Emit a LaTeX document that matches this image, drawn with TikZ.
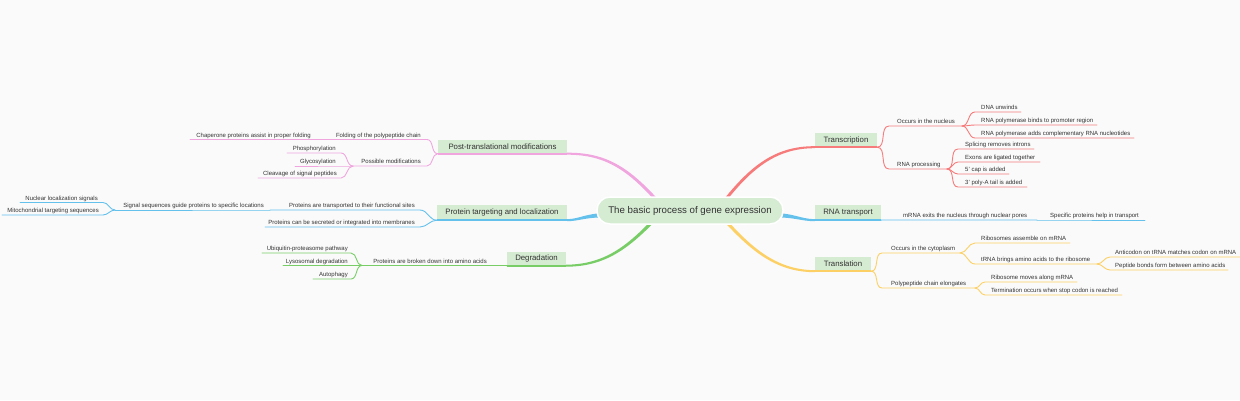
\documentclass[tikz,border=0pt]{standalone}
\usepackage{fontspec}
\setmainfont{Liberation Sans}
\definecolor{bg}{HTML}{FAFAFA}
\definecolor{txt}{HTML}{333333}
\definecolor{boxfill}{HTML}{D5EBD2}
\definecolor{cred}{HTML}{F77B7B}
\definecolor{cpink}{HTML}{F0A5DE}
\definecolor{cblue}{HTML}{63C1EC}
\definecolor{cyel}{HTML}{FCD064}
\definecolor{cgreen}{HTML}{78CD67}
\tikzset{
  lbl/.style={font=\fontsize{6}{7}\selectfont, text=txt, inner sep=0pt},
  rl/.style={lbl, anchor=base west},
  ll/.style={lbl, anchor=base east},
  leafline/.style={line width=0.9pt, line cap=round},
  boxline/.style={line width=2pt},
  mainbox/.style={fill=boxfill, font=\fontsize{7.8}{9}\selectfont, text=txt, inner sep=0pt, minimum height=14pt},
  rootbox/.style={fill=boxfill, draw=white, line width=1.5pt, rounded corners=13pt, font=\fontsize{9.7}{11}\selectfont, text=txt, inner sep=0pt, minimum width=186pt, minimum height=27pt}
}
% name, parent, xs, xe, y, textx, colour, text
\newcommand\rleaf[8]{%
  \coordinate (#1-s) at (#3,#5);
  \coordinate (#1-e) at (#4,#5);
  \draw[leafline,#7] (#2) to[out=0,in=180] (#1-s) -- (#1-e);
  \node[rl] (#1) at (#6,{#5-2.2}) {#8};
}
\newcommand\lleaf[8]{%
  \coordinate (#1-s) at (#3,#5);
  \coordinate (#1-e) at (#4,#5);
  \draw[leafline,#7] (#2) to[out=180,in=0] (#1-e) -- (#1-s);
  \node[ll] (#1) at (#6,{#5-2.2}) {#8};
}
% start, c1 (x,y), c2 (x,y), end, colour  (tapered main branch)
\newcommand\rootbr[5]{%
  \coordinate (rbA) at (#2);
  \coordinate (rbB) at (#3);
  \fill[#5] ([yshift=2.4pt]#1) .. controls ([yshift=1.8pt]rbA) and ([yshift=1.1pt]rbB) .. ([yshift=1pt]#4)
    -- ([yshift=-1pt]#4) .. controls ([yshift=-1.1pt]rbB) and ([yshift=-1.8pt]rbA) .. ([yshift=-2.4pt]#1) -- cycle;
}
\begin{document}
\begin{tikzpicture}[x=1pt,y=-1pt]
\fill[bg] (0,0) rectangle (1240,400);
\useasboundingbox (0,0) rectangle (1240,400);

% main branch boxes
\node[mainbox, minimum width=62pt] (tr) at (846,140) {Transcription};
\node[mainbox, minimum width=66pt, minimum height=15pt] (rt) at (848,212.5) {RNA transport};
\node[mainbox, minimum width=56pt] (tl) at (843,264) {Translation};
\node[mainbox, minimum width=129pt] (pt) at (502.5,146.5) {Post-translational modifications};
\node[mainbox, minimum width=130pt, minimum height=15pt] (pl) at (502,212.5) {Protein targeting and localization};
\node[mainbox, minimum width=59pt] (dg) at (536.5,258.5) {Degradation};

% start points inside the central topic
\coordinate (s-red) at (722,204);
\coordinate (s-yel) at (722,217);
\coordinate (s-bluer) at (770,215);
\coordinate (s-pink) at (660,204);
\coordinate (s-green) at (657,217);
\coordinate (s-bluel) at (610,215);

\rootbr{s-red}{750,168}{775,147}{tr.south west}{cred}
\rootbr{s-yel}{750,248}{775,271}{tl.south west}{cyel}
\rootbr{s-bluer}{795,215}{800,220}{rt.south west}{cblue}
\rootbr{s-pink}{630,170}{607,153.5}{pt.south east}{cpink}
\rootbr{s-green}{630,245}{607,265.5}{dg.south east}{cgreen}
\rootbr{s-bluel}{585,215}{580,220}{pl.south east}{cblue}

\draw[boxline,cred] (tr.south west) -- (tr.south east);
\draw[boxline,cblue] (rt.south west) -- (rt.south east);
\draw[boxline,cyel] (tl.south west) -- (tl.south east);
\draw[boxline,cpink] (pt.south west) -- (pt.south east);
\draw[boxline,cblue] (pl.south west) -- (pl.south east);
\draw[boxline,cgreen] (dg.south west) -- (dg.south east);

% central topic
\node[rootbox] (root) at (690,210.5) {The basic process of gene expression};

% Transcription
\rleaf{nuc}{tr.south east}{889}{962}{126}{897}{cred}{Occurs in the nucleus}
\rleaf{proc}{tr.south east}{889}{947}{169}{897}{cred}{RNA processing}
\rleaf{dna}{nuc-e}{975}{1021}{112}{981}{cred}{DNA unwinds}
\rleaf{binds}{nuc-e}{975}{1097}{125}{981}{cred}{RNA polymerase binds to promoter region}
\rleaf{adds}{nuc-e}{975}{1134}{138}{981}{cred}{RNA polymerase adds complementary RNA nucleotides}
\rleaf{splice}{proc-e}{958}{1034}{149}{965}{cred}{Splicing removes introns}
\rleaf{exons}{proc-e}{958}{1040}{162}{965}{cred}{Exons are ligated together}
\rleaf{cap}{proc-e}{958}{1009}{174}{965}{cred}{5' cap is added}
\rleaf{polya}{proc-e}{958}{1027}{187}{965}{cred}{3' poly-A tail is added}

% RNA transport
\rleaf{exits}{rt.south east}{881}{1037}{220}{903}{cblue}{mRNA exits the nucleus through nuclear pores}
\rleaf{help}{exits-e}{1040}{1145}{220}{1050}{cblue}{Specific proteins help in transport}

% Translation
\rleaf{cyto}{tl.south east}{882}{960}{253}{891}{cyel}{Occurs in the cytoplasm}
\rleaf{elong}{tl.south east}{882}{975}{288}{891}{cyel}{Polypeptide chain elongates}
\rleaf{ribo}{cyto-e}{975}{1070}{243}{981}{cyel}{Ribosomes assemble on mRNA}
\rleaf{trna}{cyto-e}{975}{1097}{264}{981}{cyel}{tRNA brings amino acids to the ribosome}
\rleaf{anti}{trna-e}{1110}{1240}{257}{1115}{cyel}{Anticodon on tRNA matches codon on mRNA}
\rleaf{pept}{trna-e}{1110}{1228}{270}{1115}{cyel}{Peptide bonds form between amino acids}
\rleaf{moves}{elong-e}{985}{1077}{282}{991}{cyel}{Ribosome moves along mRNA}
\rleaf{term}{elong-e}{985}{1122}{295}{991}{cyel}{Termination occurs when stop codon is reached}

% Post-translational modifications
\lleaf{fold}{pt.south west}{330}{427}{139.5}{421}{cpink}{Folding of the polypeptide chain}
\lleaf{chap}{fold-s}{190}{318}{139.5}{311}{cpink}{Chaperone proteins assist in proper folding}
\lleaf{poss}{pt.south west}{353}{427}{166}{421}{cpink}{Possible modifications}
\lleaf{phos}{poss-s}{287}{341}{153}{336}{cpink}{Phosphorylation}
\lleaf{glyc}{poss-s}{295}{341}{166}{336}{cpink}{Glycosylation}
\lleaf{cleav}{poss-s}{258}{341}{178}{337}{cpink}{Cleavage of signal peptides}

% Protein targeting and localization
\lleaf{transp}{pl.south west}{270}{420}{210}{415}{cblue}{Proteins are transported to their functional sites}
\lleaf{signal}{transp-s}{115}{268}{210}{264}{cblue}{Signal sequences guide proteins to specific locations}
\lleaf{nls}{signal-s}{20}{103}{202.5}{98}{cblue}{Nuclear localization signals}
\lleaf{mts}{signal-s}{2}{103}{215}{99}{cblue}{Mitochondrial targeting sequences}
\lleaf{secr}{pl.south west}{265}{420}{227}{415}{cblue}{Proteins can be secreted or integrated into membranes}

% Degradation
\lleaf{broken}{dg.south west}{362}{507}{265.5}{487}{cgreen}{Proteins are broken down into amino acids}
\lleaf{ubiq}{broken-s}{262}{351}{253}{348}{cgreen}{Ubiquitin-proteasome pathway}
\lleaf{lyso}{broken-s}{283}{351}{265.5}{348}{cgreen}{Lysosomal degradation}
\lleaf{auto}{broken-s}{313}{351}{279}{348}{cgreen}{Autophagy}
\end{tikzpicture}
\end{document}
